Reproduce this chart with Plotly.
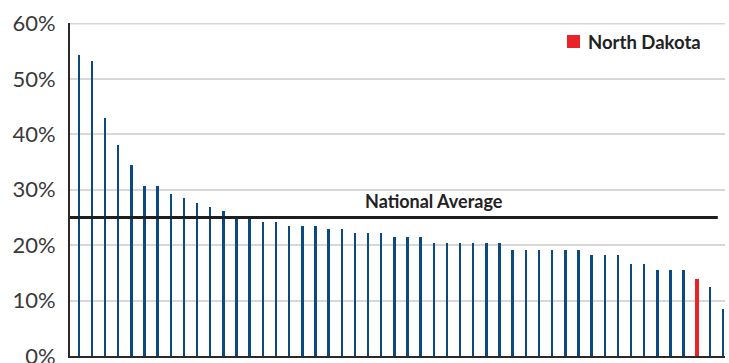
import plotly.graph_objects as go

# Rank of each state (1 = highest share)
ranks = list(range(1, 51))

# Share of each state, in percent, sorted high to low
shares = [
    54.4, 53.3, 42.9, 38.1, 34.5, 30.7, 30.7, 29.3, 28.6, 27.7,
    26.9, 26.2, 25.2, 25.1, 24.2, 24.2, 23.5, 23.5, 23.5, 23.0,
    23.0, 22.2, 22.2, 22.2, 21.5, 21.5, 21.5, 20.4, 20.4, 20.4,
    20.4, 20.4, 20.4, 19.2, 19.2, 19.2, 19.2, 19.2, 19.2, 18.3,
    18.3, 18.3, 16.6, 16.6, 15.5, 15.5, 15.5, 13.9, 12.5, 8.5,
]

highlight_rank = 48          # North Dakota
highlight_name = "North Dakota"
national_average = 25.0

y_ticks = [0, 10, 20, 30, 40, 50, 60]
y_tick_labels = [f"{v}%" for v in y_ticks]

BLUE = "#0a4a80"
RED = "#e8232a"
INK = "#2a2a2a"
GRID = "#d8d8d8"

colors = [RED if r == highlight_rank else BLUE for r in ranks]
widths = [0.30 if r == highlight_rank else 0.15 for r in ranks]

fig = go.Figure()
fig.add_trace(go.Bar(
    x=ranks,
    y=shares,
    marker=dict(color=colors, line=dict(width=0)),
    width=widths,
    showlegend=False,
    hoverinfo="y",
))

# Top grid line, which sits on the edge of the plotting area
fig.add_shape(
    type="line", xref="paper", yref="y",
    x0=0, x1=1, y0=y_ticks[-1], y1=y_ticks[-1],
    line=dict(color=GRID, width=2),
    layer="below",
)

# National average reference line
fig.add_shape(
    type="line", xref="paper", yref="y",
    x0=0, x1=0.989, y0=national_average, y1=national_average,
    line=dict(color="#1e1e1e", width=3),
    layer="above",
)
fig.add_annotation(
    text="<b>National Average</b>",
    xref="paper", yref="y",
    x=0.556, y=national_average,
    xanchor="center", yanchor="bottom", yshift=3,
    showarrow=False,
    font=dict(family="Lato", size=18, color="#222222"),
)

# Key for the highlighted state
fig.add_shape(
    type="rect", xref="paper", yref="paper",
    x0=(567 - 70) / 655, x1=(580 - 70) / 655,
    y0=(356 - 48) / 333, y1=(356 - 35) / 333,
    fillcolor=RED, line=dict(width=0),
)
fig.add_annotation(
    text=f"<b>{highlight_name}</b>",
    xref="paper", yref="paper",
    x=(586 - 70) / 655, y=(356 - 42) / 333,
    xanchor="left", yanchor="middle",
    showarrow=False,
    font=dict(family="Lato", size=18.5, color="#222222"),
)

fig.update_layout(
    width=729, height=363,
    margin=dict(l=70, r=4, t=23, b=7),
    plot_bgcolor="white",
    paper_bgcolor="white",
    bargap=0,
    xaxis=dict(
        range=[ranks[0] - 0.684, ranks[-1] + 0.125],
        showticklabels=False,
        ticks="",
        showgrid=False,
        zeroline=False,
        automargin=False,
        showline=True, linecolor=INK, linewidth=2,
    ),
    yaxis=dict(
        range=[0, 60.1],
        tickmode="array",
        tickvals=y_ticks,
        ticktext=y_tick_labels,
        ticks="",
        ticklabelstandoff=8,
        ticklabeloverflow="allow",
        automargin=False,
        showgrid=True, gridcolor=GRID, gridwidth=2,
        zeroline=False,
        showline=True, linecolor=INK, linewidth=2,
        tickfont=dict(family="Lato", size=22, color="#3a3a3a"),
    ),
)

fig.write_html("out.html")
